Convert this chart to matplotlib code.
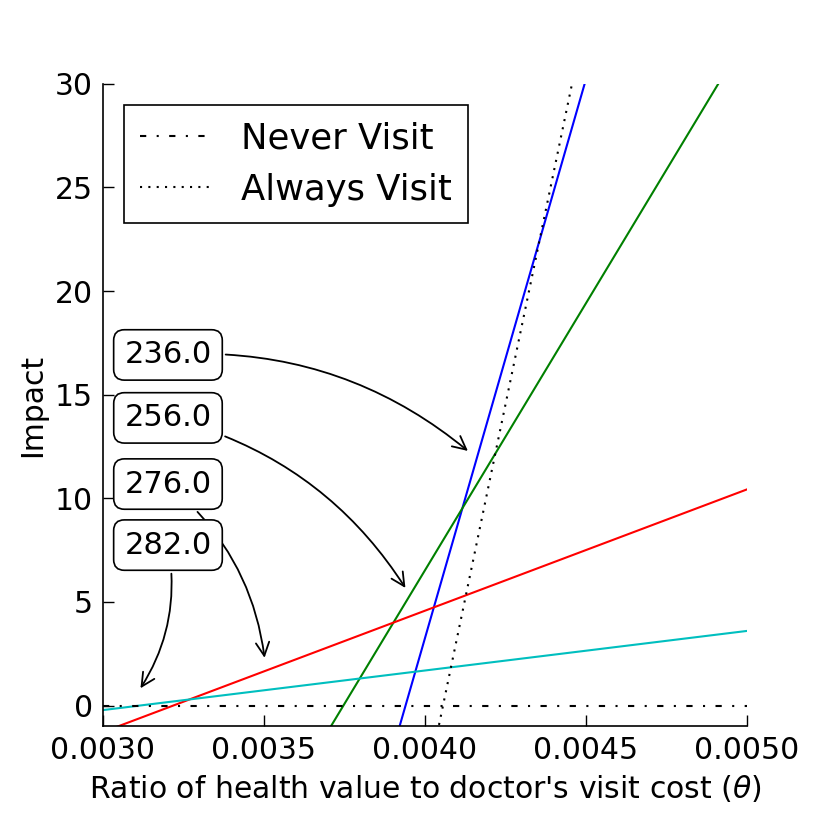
import matplotlib
matplotlib.use("Agg")
import matplotlib.pyplot as plt

# data
theta = [0.003, 0.005]
impact_blue = [-50.7, 57.2]
impact_green = [-19.25, 32.3]
impact_red = [-1.28, 10.43]
impact_cyan = [-0.22, 3.6]
never_visit = [0.0, 0.0]
always_visit = [-79.1, 70.7]

ann_labels = ["236.0", "256.0", "276.0", "282.0"]
ann_x = [0.00414, 0.003944, 0.003503, 0.003112]
ann_y = [12.2, 5.56, 2.17, 0.72]
ann_text_y = [0.578, 0.480, 0.377, 0.282]

fig = plt.figure(figsize=(8.3, 8.3), dpi=100)
ax = fig.add_axes([0.124, 0.125, 0.776, 0.774])

ax.plot(theta, impact_blue, color="b", lw=1.5)
ax.plot(theta, impact_green, color="g", lw=1.5)
ax.plot(theta, impact_red, color="r", lw=1.5)
ax.plot(theta, impact_cyan, color="c", lw=1.5)
ax.plot(theta, never_visit, color="k", lw=1.5, linestyle=(0, (3, 5, 1, 5)),
        label="Never Visit")
ax.plot(theta, always_visit, color="k", lw=1.5, linestyle=(0, (1, 3)),
        label="Always Visit")

for lab, x, y, ty in zip(ann_labels, ann_x, ann_y, ann_text_y):
    ax.annotate(lab, xy=(x, y), xytext=(0.101, ty), textcoords="axes fraction",
                ha="center", va="center", fontsize=22,
                bbox=dict(boxstyle="round,pad=0.35", fc="w", ec="k", lw=1.2),
                arrowprops=dict(arrowstyle="->", connectionstyle="arc3,rad=-0.2",
                                color="k", lw=1.3, mutation_scale=24))

ax.set_xlim(0.003, 0.005)
ax.set_ylim(-1, 30)
ax.set_xticks([0.003, 0.0035, 0.004, 0.0045, 0.005])
ax.set_xticklabels(["0.0030", "0.0035", "0.0040", "0.0045", "0.0050"])
ax.set_yticks([0, 5, 10, 15, 20, 25, 30])
ax.spines["top"].set_visible(False)
ax.spines["right"].set_visible(False)
for s in ("left", "bottom"):
    ax.spines[s].set_linewidth(1.2)
ax.tick_params(direction="in", length=8, width=1, labelsize=21.5,
               top=False, right=False, pad=7)
ax.set_xlabel("Ratio of health value to doctor's visit cost ($\\theta$)", fontsize=21.5,
              labelpad=6)
ax.set_ylabel("Impact", fontsize=21.5, labelpad=6)

leg = ax.legend(loc="upper left", fontsize=25.5, fancybox=False, handlelength=2.0,
                handletextpad=0.85, borderpad=0.45, borderaxespad=0.6,
                labelspacing=0.5, framealpha=1)
leg.get_frame().set_edgecolor("k")
leg.get_frame().set_linewidth(1.2)

fig.savefig("out.png", dpi=100, facecolor="w")
